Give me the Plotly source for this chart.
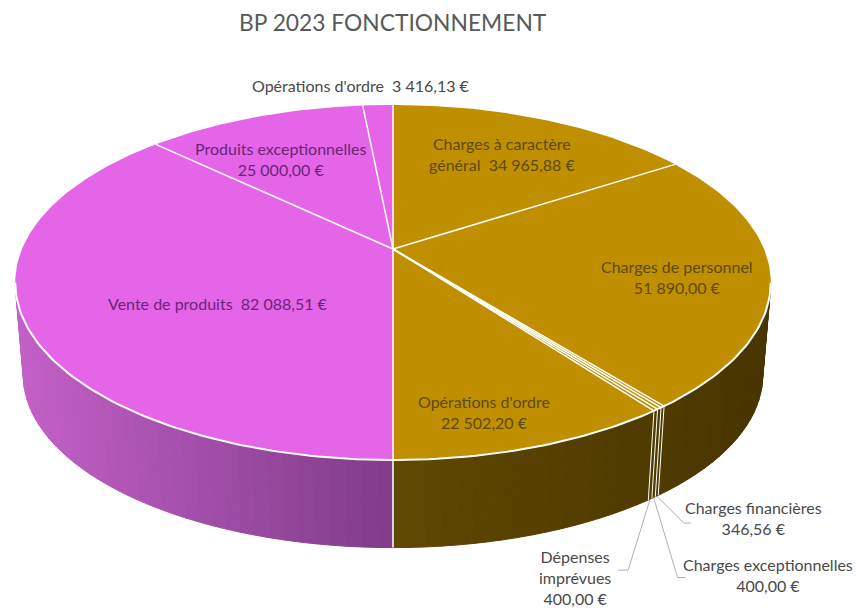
import math
import plotly.graph_objects as go

title = "BP 2023 FONCTIONNEMENT"
categories = ["Charges à caractère général", "Charges de personnel", "Charges financières",
              "Charges exceptionnelles", "Dépenses imprévues", "Opérations d'ordre",
              "Vente de produits", "Produits exceptionnelles", "Opérations d'ordre"]
values = [34965.88, 51890.00, 346.56, 400.00, 400.00, 22502.20, 82088.51, 25000.00, 3416.13]
groups = ["gold"] * 6 + ["pink"] * 3
value_labels = ["34 965,88 €", "51 890,00 €", "346,56 €", "400,00 €", "400,00 €",
                "22 502,20 €", "82 088,51 €", "25 000,00 €", "3 416,13 €"]

TOP_COL = {"gold": "#BF8F00", "pink": "#E565E8"}
SIDE_L = {"gold": (0x60, 0x48, 0x00), "pink": (0xC2, 0x60, 0xC8)}
SIDE_R = {"gold": (0x48, 0x34, 0x00), "pink": (0x80, 0x3C, 0x88)}
SIDE_SPAN = {"gold": (393, 771), "pink": (18, 393)}

CX, CY, A, B, K = 393.0, 249.0, 371.0, 171.2, 0.1887
CX2, CY2, A2, B2 = 393.0, 343.0, 363.0, 166.0


def top(deg):
    t = math.radians(deg)
    u, v = math.sin(t), math.cos(t)
    w = 1 + K * v
    return CX + A * u / w, CY - B * v / w


def bottom(deg):
    t = math.radians(deg)
    u, v = math.sin(t), math.cos(t)
    w = 1 + K * v
    return CX2 + A2 * u / w, CY2 - B2 * v / w


def arc(fn, a0, a1, step=1.0):
    n = max(2, int(abs(a1 - a0) / step) + 1)
    return [fn(a0 + (a1 - a0) * i / n) for i in range(n + 1)]


total = sum(values)
bounds = [0.0]
for v in values:
    bounds.append(bounds[-1] + v / total * 360)


def mid(i):
    return (bounds[i] + bounds[i + 1]) / 2


fig = go.Figure()


def poly(pts, fill, line=None, width=0.0):
    xs = [p[0] for p in pts] + [pts[0][0]]
    ys = [p[1] for p in pts] + [pts[0][1]]
    fig.add_trace(go.Scatter(x=xs, y=ys, mode="lines", fill="toself", fillcolor=fill,
                             line=dict(color=line or fill, width=width),
                             hoverinfo="skip", showlegend=False))


def stroke(pts, color="#FFFFFF", width=1.5):
    fig.add_trace(go.Scatter(x=[p[0] for p in pts], y=[p[1] for p in pts], mode="lines",
                             line=dict(color=color, width=width),
                             hoverinfo="skip", showlegend=False))


# side wall: narrow strips shaded by horizontal position, between the two silhouette tangents
for i, g in enumerate(groups):
    a0 = max(bounds[i], 100.9)
    a1 = min(bounds[i + 1], 259.1)
    if a1 <= a0:
        continue
    n = max(1, int((a1 - a0) / 2.0))
    for j in range(n):
        s0 = a0 + (a1 - a0) * j / n
        s1 = a0 + (a1 - a0) * (j + 1) / n
        p = [top(s0), top(s1), bottom(s1), bottom(s0)]
        xm = sum(q[0] for q in p) / 4
        lo, hi = SIDE_SPAN[g]
        f = min(1.0, max(0.0, (xm - lo) / (hi - lo)))
        c = tuple(round(SIDE_L[g][k] + (SIDE_R[g][k] - SIDE_L[g][k]) * f) for k in range(3))
        col = "rgb(%d,%d,%d)" % c
        poly(p, col, col, 1.0)

# visible wall separators
for b in bounds:
    if 100 < b < 260:
        stroke([top(b), bottom(b)], width=1.0 if b < 179 else 1.5)

# top faces
for i, g in enumerate(groups):
    poly([(CX, CY)] + arc(top, bounds[i], bounds[i + 1]), TOP_COL[g])
for b in bounds[:-1]:
    stroke([(CX, CY), top(b)], width=1.5)
stroke(arc(top, 100.9, 259.1), width=2)


# leader lines start at the lower rim of their slice
def leader(i, dx1, dy1, dx2):
    x0, y0 = bottom(mid(i))
    stroke([(x0, y0), (x0 + dx1, y0 + dy1), (x0 + dx1 + dx2, y0 + dy1)], "#A6A6A6", 0.9)


leader(2, 27, 27, 7)
leader(3, 24, 80, 8)
leader(4, -22, 71, -10)

DARK_GOLD = "#5E4A0C"
DARK_PINK = "#6B2478"
OUT = "#4A4A4A"
FS = 16
labels = [
    (502, 154, f"{categories[0].rsplit(' ', 1)[0]}<br>{categories[0].rsplit(' ', 1)[1]}  {value_labels[0]}", DARK_GOLD),
    (677, 277, f"{categories[1]}<br>{value_labels[1]}", DARK_GOLD),
    (753, 518, f"{categories[2]}<br>{value_labels[2]}", OUT),
    (768, 575, f"{categories[3]}<br>{value_labels[3]}", OUT),
    (575, 577, f"{categories[4].split(' ')[0]}<br>{categories[4].split(' ')[1]}<br>{value_labels[4]}", OUT),
    (484, 412, f"{categories[5]}<br>{value_labels[5]}", DARK_GOLD),
    (218, 303, f"{categories[6]}  {value_labels[6]}", DARK_PINK),
    (280, 159, f"{categories[7]}<br>{value_labels[7]}", DARK_PINK),
    (361, 85, f"{categories[8]}  {value_labels[8]}", OUT),
]
annotations = [dict(x=x, y=y, text=t, showarrow=False, xanchor="center", yanchor="middle",
                    align="center", font=dict(family="Lato", size=FS, color=c))
               for x, y, t, c in labels]
annotations.append(dict(x=393, y=22, text=title, showarrow=False, xanchor="center", yanchor="middle",
                        font=dict(family="Lato", size=22.8, color="#595959")))

fig.update_layout(
    width=858, height=608, margin=dict(l=0, r=0, t=0, b=0),
    paper_bgcolor="#FFFFFF", plot_bgcolor="#FFFFFF", showlegend=False,
    xaxis=dict(range=[0, 858], visible=False, fixedrange=True),
    yaxis=dict(range=[608, 0], visible=False, fixedrange=True),
    annotations=annotations,
)
fig.write_html("out.html", config={"displayModeBar": False},
               post_script="document.body.style.margin='0';document.documentElement.style.overflow='hidden';")
